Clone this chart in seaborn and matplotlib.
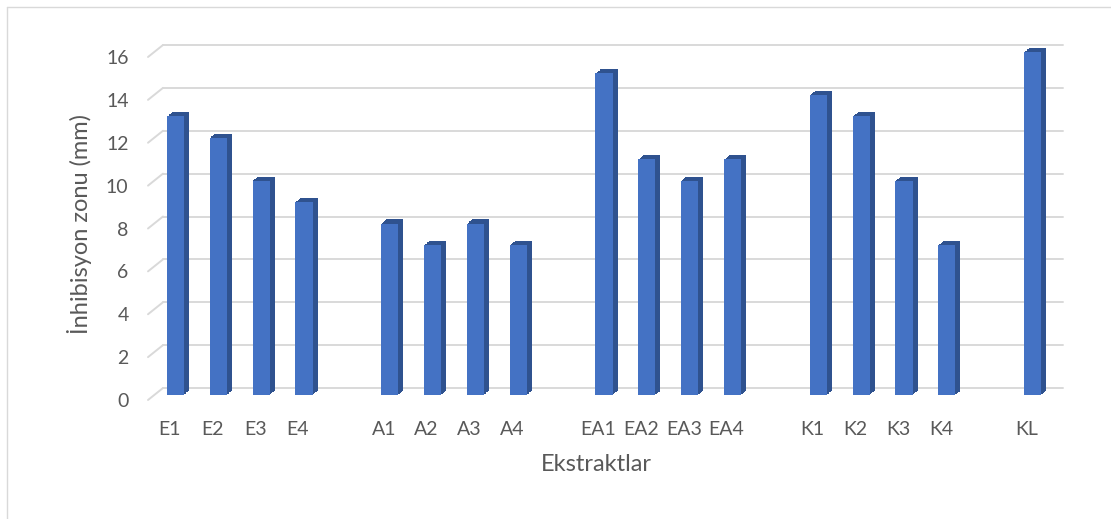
import matplotlib
matplotlib.use('Agg')
import matplotlib.pyplot as plt
import matplotlib.patheffects as pe
from matplotlib.transforms import ScaledTranslation
from matplotlib.lines import Line2D
import seaborn as sns
import pandas as pd

# Veriler
ekstraktlar = ['E1', 'E2', 'E3', 'E4', 'A1', 'A2', 'A3', 'A4',
               'EA1', 'EA2', 'EA3', 'EA4', 'K1', 'K2', 'K3', 'K4', 'KL']
zon = [13, 12, 10, 9, 8, 7, 8, 7, 15, 11, 10, 11, 14, 13, 10, 7, 16]
gruplar = ['E', 'A', 'EA', 'K', 'KL']
y_ticks = list(range(0, 17, 2))

# Gruplar arasında boş bir sütun bırak
order = []
for i, g in enumerate(gruplar):
    if i > 0:
        order.append(' ' * i)
    order += [e for e in ekstraktlar if e.rstrip('0123456789') == g]

df = pd.DataFrame({'Ekstrakt': ekstraktlar, 'Zon': zon})

sns.set_theme(style='white')
plt.rcParams['font.family'] = ['Lato', 'DejaVu Sans']

text_color = '#595959'
grid_color = '#d9d9d9'
bar_color = '#4472c4'
dark = '#2f528f'

fig = plt.figure(figsize=(11.11, 5.19), dpi=100)
ax = fig.add_axes([154 / 1111, 124 / 519, 900 / 1111, 343 / 519])

sns.barplot(data=df, x='Ekstrakt', y='Zon', order=order, color=bar_color,
            saturation=1, width=0.4, linewidth=0, ax=ax, zorder=3)

ax.set_ylim(0, 16)
ax.set_xlim(-0.5, len(order) - 0.5)
ax.set_yticks(y_ticks)
sns.despine(ax=ax, left=True, bottom=True)
ax.grid(False)

# 3B görünüm: yan ve üst yüzler
eff = [pe.SimplePatchShadow(offset=(3.6 * k / 6, 2.9 * k / 6), shadow_rgbFace=dark, alpha=1)
       for k in range(6, 0, -1)] + [pe.Normal()]
for p in ax.patches:
    p.set_path_effects(eff)
    p.set_clip_on(False)

# Arka düzlemdeki ızgara çizgileri
ppu = 343 / 16
back = ScaledTranslation(0.09, 0.07, fig.dpi_scale_trans)
front = ScaledTranslation(-0.06, -0.05, fig.dpi_scale_trans)
for v in y_ticks:
    ax.plot([0, 1], [v, v], color=grid_color, lw=1.4, zorder=1,
            transform=ax.get_yaxis_transform() + back, clip_on=False)
    ax.plot([0, 15 / 900], [v, v + 12 / ppu], color=grid_color, lw=1.4, zorder=1,
            transform=ax.get_yaxis_transform() + front, clip_on=False)

ax.tick_params(axis='both', length=0, labelsize=14, colors=text_color)
ax.tick_params(axis='x', pad=15)
ax.tick_params(axis='y', pad=14)
for lab in ax.get_xticklabels() + ax.get_yticklabels():
    lab.set_transform(lab.get_transform() + front)

ax.set_xlabel('Ekstraktlar', fontsize=17, color=text_color)
ax.set_ylabel('İnhibisyon zonu (mm)', fontsize=17, color=text_color)
ax.xaxis.set_label_coords(0.492, -0.172)
ax.yaxis.set_label_coords(-0.069, 0.5)

# Grafik alanı çerçevesi
fig.add_artist(Line2D([7 / 1111, 7 / 1111], [0, 1 - 7 / 519], color=grid_color, lw=1))
fig.add_artist(Line2D([7 / 1111, 1], [1 - 7 / 519, 1 - 7 / 519], color=grid_color, lw=1))

fig.savefig('out.png', dpi=100)
